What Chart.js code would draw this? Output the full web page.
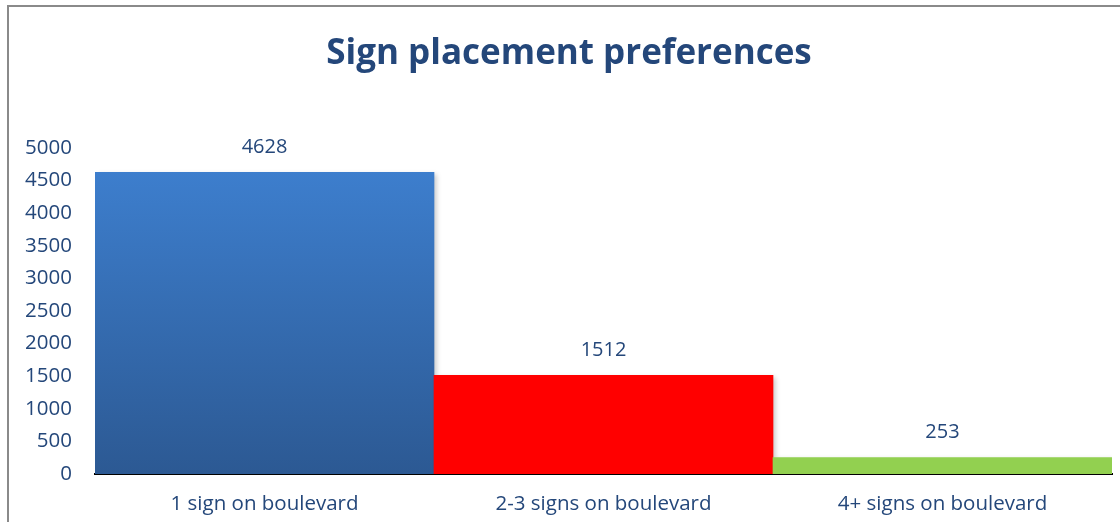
<!DOCTYPE html>
<html>
<head>
<meta charset="utf-8">
<script src="https://cdn.jsdelivr.net/npm/chart.js@4"></script>
<style>
  html, body { margin: 0; padding: 0; background: #fff; }
  #wrap { width: 1120px; height: 522px; }
</style>
</head>
<body>
<div id="wrap"><canvas id="signChart" width="1120" height="522"></canvas></div>
<script>
// Dados do gráfico
const categories = ['1 sign on boulevard', '2-3 signs on boulevard', '4+ signs on boulevard'];
const counts = [4628, 1512, 253];
const yTicks = [0, 500, 1000, 1500, 2000, 2500, 3000, 3500, 4000, 4500, 5000];
const chartTitle = 'Sign placement preferences';

const textColor = '#24477a';
const fontFamily = '"Open Sans", "Noto Sans", sans-serif';

// Moldura cinza (esquerda e topo) + título
const framePlugin = {
    id: 'frame',
    beforeDraw(chart) {
        const c = chart.ctx;
        c.save();
        c.fillStyle = '#fff';
        c.fillRect(0, 0, chart.width, chart.height);
        c.strokeStyle = '#8a8a8a';
        c.lineWidth = 2;
        c.beginPath();
        c.moveTo(8, chart.height);
        c.lineTo(8, 6);
        c.lineTo(chart.width, 6);
        c.stroke();

        // título, levemente deslocado à direita como no original
        c.fillStyle = textColor;
        c.font = 'bold 35px ' + fontFamily;
        c.textAlign = 'center';
        c.textBaseline = 'middle';
        c.fillText(chartTitle, 569, 54);
        c.restore();
    }
};

// Sombra leve nas barras
const shadowPlugin = {
    id: 'barShadow',
    beforeDatasetDraw(chart) {
        const c = chart.ctx;
        c.save();
        c.shadowColor = 'rgba(0,0,0,0.22)';
        c.shadowBlur = 5;
        c.shadowOffsetX = 3;
        c.shadowOffsetY = 2;
    },
    afterDatasetDraw(chart) {
        chart.ctx.restore();
    }
};

// Rótulos de valor acima das barras
const valueLabels = {
    id: 'valueLabels',
    afterDatasetsDraw(chart) {
        const c = chart.ctx;
        const meta = chart.getDatasetMeta(0);
        c.save();
        c.fillStyle = textColor;
        c.font = '20px ' + fontFamily;
        c.textAlign = 'center';
        c.textBaseline = 'middle';
        meta.data.forEach((bar, i) => {
            c.fillText(String(counts[i]), bar.x, bar.y - 25);
        });
        c.restore();
    }
};

function barColor(context) {
    const i = context.dataIndex;
    if (i === 1) return '#ff0000';
    if (i === 2) return '#92d050';
    const chart = context.chart;
    const area = chart.chartArea;
    if (!area) return '#3a76c4';
    const yScale = chart.scales.y;
    const top = yScale.getPixelForValue(counts[i]);
    const bottom = yScale.getPixelForValue(0);
    const g = chart.ctx.createLinearGradient(0, top, 0, bottom);
    g.addColorStop(0, '#3d7ecd');
    g.addColorStop(1, '#2c5993');
    return g;
}

new Chart(document.getElementById('signChart'), {
    type: 'bar',
    data: {
        labels: categories,
        datasets: [{
            data: counts,
            backgroundColor: barColor,
            borderWidth: 0,
            barPercentage: 1,
            categoryPercentage: 1
        }]
    },
    options: {
        responsive: false,
        animation: false,
        layout: { padding: { left: 0, right: 8, top: 148, bottom: 0 } },
        plugins: {
            legend: { display: false },
            tooltip: { enabled: false },
            title: { display: false }
        },
        scales: {
            x: {
                grid: { display: false, drawTicks: false },
                border: { display: true, color: '#000', width: 2 },
                ticks: { color: textColor, font: { family: fontFamily, size: 20.5 }, padding: 18 },
                afterFit(scale) { scale.height = 48; }
            },
            y: {
                min: 0,
                max: 5000,
                grid: { display: false, drawTicks: false },
                border: { display: false },
                afterBuildTicks(scale) { scale.ticks = yTicks.map(v => ({ value: v })); },
                ticks: {
                    color: textColor,
                    font: { family: fontFamily, size: 20.5 },
                    padding: 23,
                    callback: v => String(v)
                },
                afterFit(scale) { scale.width = 95; }
            }
        }
    },
    plugins: [framePlugin, shadowPlugin, valueLabels]
});
</script>
</body>
</html>
